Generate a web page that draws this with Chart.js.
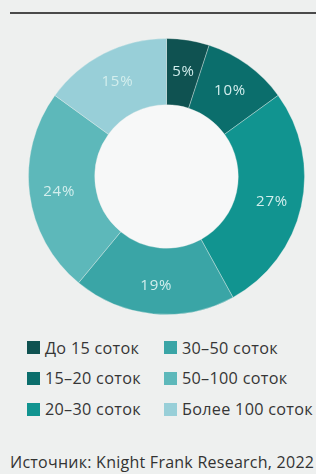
<!DOCTYPE html>
<html>
<head>
<meta charset="utf-8">
<script src="https://cdn.jsdelivr.net/npm/chart.js@4"></script>
<style>
  html, body { margin: 0; padding: 0; }
  body { width: 316px; height: 474px; background: #eef0ef; position: relative; overflow: hidden; font-family: "Open Sans", "Noto Sans", sans-serif; }
  #rule { position: absolute; left: 10px; right: 0; top: 12px; height: 2px; background: #4a4a4a; }
  #wrap { position: absolute; left: 28px; top: 38px; width: 277px; height: 277px; }
  #legend { position: absolute; left: 27px; top: 336px; display: grid; grid-template-columns: 137px 152px; grid-auto-flow: column; grid-template-rows: repeat(3, 30.8px); }
  .item { display: flex; align-items: center; font-size: 16.2px; letter-spacing: 0.3px; color: #363636; white-space: nowrap; height: 23px; }
  .sw { width: 13px; height: 13px; margin-right: 5px; flex: none; }
  #source { position: absolute; left: 10px; top: 451px; font-size: 16px; color: #333; white-space: nowrap; letter-spacing: 0.25px; }
</style>
</head>
<body>
<div id="rule"></div>
<div id="wrap"><canvas id="c"></canvas></div>
<div id="legend"></div>
<div id="source">Источник: Knight Frank Research, 2022</div>
<script>
const categories = ["До 15 соток", "15–20 соток", "20–30 соток", "30–50 соток", "50–100 соток", "Более 100 соток"];
const shares = [5, 10, 27, 19, 24, 15];
const colors = ["#0f5251", "#0b6e6c", "#119490", "#3aa5a6", "#5db8ba", "#98cfd8"];

const legend = document.getElementById('legend');
categories.forEach((name, i) => {
  const d = document.createElement('div');
  d.className = 'item';
  const s = document.createElement('span');
  s.className = 'sw';
  s.style.background = colors[i];
  d.appendChild(s);
  d.appendChild(document.createTextNode(name));
  legend.appendChild(d);
});

const holeAndLabels = {
  id: 'holeAndLabels',
  beforeDatasetsDraw(chart) {
    const meta = chart.getDatasetMeta(0);
    const a = meta.data[0];
    if (!a) return;
    const ctx = chart.ctx;
    ctx.save();
    ctx.beginPath();
    ctx.arc(a.x, a.y, a.innerRadius, 0, Math.PI * 2);
    ctx.fillStyle = '#f7f8f8';
    ctx.fill();
    ctx.restore();
  },
  afterDatasetsDraw(chart) {
    const meta = chart.getDatasetMeta(0);
    const ctx = chart.ctx;
    ctx.save();
    ctx.font = '15px "Open Sans", "Noto Sans", sans-serif';
    try { ctx.letterSpacing = '0.8px'; } catch (e) {}
    ctx.fillStyle = '#d3eeed';
    ctx.textAlign = 'center';
    ctx.textBaseline = 'middle';
    meta.data.forEach((arc, i) => {
      const p = arc.getProps(['x', 'y', 'startAngle', 'endAngle', 'innerRadius', 'outerRadius'], true);
      const mid = (p.startAngle + p.endAngle) / 2;
      const r = p.innerRadius + (p.outerRadius - p.innerRadius) * 0.55;
      ctx.fillText(shares[i] + '%', p.x + Math.cos(mid) * r, p.y + Math.sin(mid) * r + 2);
    });
    ctx.restore();
  }
};

new Chart(document.getElementById('c'), {
  type: 'doughnut',
  data: {
    labels: categories,
    datasets: [{
      data: shares,
      backgroundColor: colors,
      borderColor: 'rgba(238,240,239,0.35)',
      borderWidth: 1
    }]
  },
  options: {
    responsive: true,
    maintainAspectRatio: false,
    animation: false,
    cutout: '52%',
    layout: { padding: 0 },
    plugins: { legend: { display: false }, tooltip: { enabled: false } }
  },
  plugins: [holeAndLabels]
});
</script>
</body>
</html>
